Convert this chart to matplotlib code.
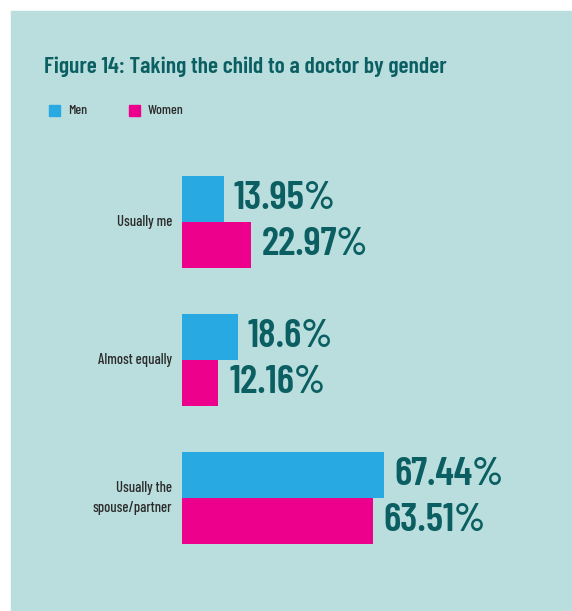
import matplotlib
matplotlib.use("Agg")
import matplotlib.pyplot as plt
from matplotlib.patches import Rectangle

# Survey answers, share of respondents (%)
categories = ["Usually me", "Almost equally", "Usually the\nspouse/partner"]
men = [13.95, 18.6, 67.44]
women = [22.97, 12.16, 63.51]
value_labels_men = ["13.95%", "18.6%", "67.44%"]
value_labels_women = ["22.97%", "12.16%", "63.51%"]
series_names = ["Men", "Women"]

PANEL = "#badedd"
BLUE = "#29a9e1"
PINK = "#ec008c"
TEAL = "#0b5f63"
GREY = "#2b2b2b"
FONT = ["Barlow Condensed", "DejaVu Sans"]

W, H = 572, 611
fig = plt.figure(figsize=(W / 100, H / 100), dpi=100)
fig.patch.set_facecolor("white")
fig.add_artist(Rectangle((11 / W, 0), (W - 11) / W, (H - 11) / H,
                         transform=fig.transFigure, color=PANEL, zorder=0))

fig.text(44 / W, 1 - 73 / H, "Figure 14: Taking the child to a doctor by gender",
         fontsize=17, fontweight=600, color=TEAL, family=FONT, va="baseline")

# legend squares
for x0, name, col in [(49, series_names[0], BLUE), (129, series_names[1], PINK)]:
    fig.add_artist(Rectangle((x0 / W, 1 - 116 / H), 11 / W, 11 / H,
                             transform=fig.transFigure, color=col))
    fig.text((x0 + 19) / W, 1 - 110.5 / H, name, fontsize=10, color=GREY,
             family=FONT, fontweight=500, va="center")

# axes: 3 px per percentage point, 138 px per group
ax = fig.add_axes([182 / W, (H - 567) / H, 300 / W, 414 / H])
ax.set_xlim(0, 100)
ax.set_ylim(2.5, -0.5)
ax.axis("off")

y = list(range(len(categories)))
h = 1 / 3
ax.barh([v - h / 2 for v in y], men, height=h, color=BLUE)
ax.barh([v + h / 2 for v in y], women, height=h, color=PINK)

for i in y:
    ax.annotate(value_labels_men[i], (men[i], i - h / 2), xytext=(7, 0),
                textcoords="offset points", va="center", ha="left",
                fontsize=29, fontweight=600, color=TEAL, family=FONT)
    ax.annotate(value_labels_women[i], (women[i], i + h / 2), xytext=(8, 0),
                textcoords="offset points", va="center", ha="left",
                fontsize=29, fontweight=600, color=TEAL, family=FONT)
    ax.annotate(categories[i], (0, i), xytext=(-7, 0), textcoords="offset points",
                va="center", ha="right", fontsize=10.5, color=GREY, family=FONT,
                fontweight=500, multialignment="right", linespacing=1.5)

fig.savefig("out.png", dpi=100, facecolor=fig.get_facecolor())
